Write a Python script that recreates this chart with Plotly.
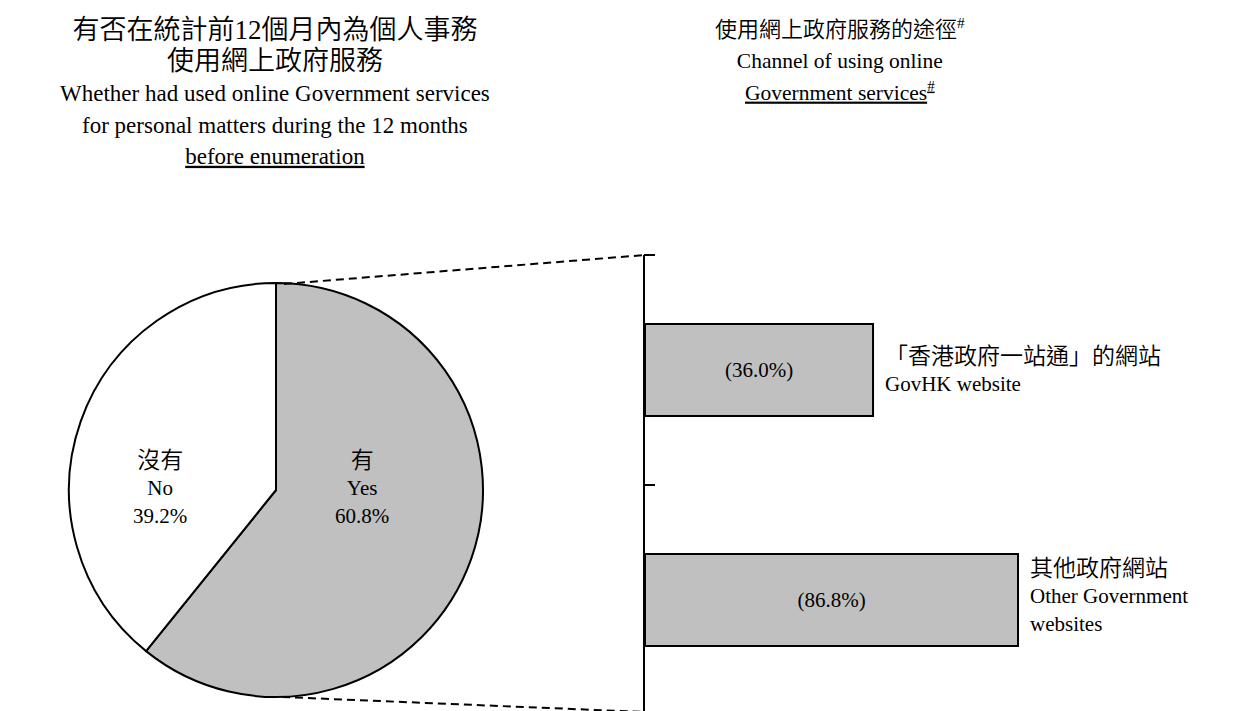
import plotly.graph_objects as go

# ---------------- data ----------------
pie_labels_zh = ["有", "沒有"]
pie_labels_en = ["Yes", "No"]
pie_values = [60.8, 39.2]
pie_colors = ["#C0C0C0", "#FFFFFF"]

bar_labels_zh = ["「香港政府一站通」的網站", "其他政府網站"]
bar_labels_en = ["GovHK website", "Other Government<br>websites"]
bar_values = [36.0, 86.8]

title_left_zh = ["有否在統計前12個月內為個人事務", "使用網上政府服務"]
title_left_en = ["Whether had used online Government services",
                 "for personal matters during the 12 months",
                 "<u>before enumeration</u>"]
title_right_zh = ["使用網上政府服務的途徑<sup>#</sup>"]
title_right_en = ["Channel of using online",
                  "<u>Government services<sup>#</sup></u>"]

# ---------------- layout constants (screen pixels) ----------------
SCR_W, SCR_H = 1238, 711
OFF = 8                       # default page margin around the plot div
FIG_W, FIG_H = SCR_W - OFF, SCR_H - OFF
FONT = ("Liberation Serif, Times New Roman, Noto Sans CJK TC DemiLight, "
        "Noto Sans CJK TC Light, Noto Sans CJK TC, serif")
PIE_CX, PIE_CY, PIE_R = 276, 490, 207
AXIS_X = 645
AXIS_TOP = 255
CAT_PX = 230
TICK_LEN = 10
BAR_X0 = -43.9          # value at the axis line (bars start here)
PX_PER_UNIT = 2.854

LTITLE_EN, LTITLE_ZH = 23, 27
RTITLE_EN, RTITLE_ZH = 21.5, 22
BODY_EN, BODY_ZH = 21, 23


def fx(x):
    return (x - OFF) / FIG_W


def fy(y):
    return 1 - (y - OFF) / FIG_H


def sz(s, size):
    return f"<span style='font-size:{size}px'>{s}</span>"


fig = go.Figure()

fig.add_trace(go.Pie(
    values=pie_values, labels=pie_labels_en,
    marker=dict(colors=pie_colors, line=dict(color="black", width=2)),
    sort=False, direction="clockwise", rotation=0,
    textinfo="none", hoverinfo="skip", showlegend=False,
    domain=dict(x=[fx(PIE_CX - PIE_R), fx(PIE_CX + PIE_R)],
                y=[fy(PIE_CY + PIE_R), fy(PIE_CY - PIE_R)]),
))

fig.add_trace(go.Bar(
    y=bar_labels_zh,
    x=[v - BAR_X0 for v in bar_values],
    base=BAR_X0,
    orientation="h",
    width=0.4,
    marker=dict(color="#C0C0C0", line=dict(color="black", width=2)),
    text=[f"({v:.1f}%)" for v in bar_values],
    textposition="inside", insidetextanchor="middle", textangle=0,
    constraintext="none",
    textfont=dict(family=FONT, size=BODY_EN, color="black"),
    hoverinfo="skip", showlegend=False,
    xaxis="x2", yaxis="y2",
))

dom_w = SCR_W - AXIS_X
x_range = [BAR_X0, BAR_X0 + dom_w / PX_PER_UNIT]
y_range = [-0.5 + (SCR_H - AXIS_TOP) / CAT_PX, -0.5]

annotations = []

# titles
left_title = "<br>".join([sz(s, LTITLE_ZH) for s in title_left_zh] +
                         [sz(s, LTITLE_EN) for s in title_left_en])
annotations.append(dict(text=left_title, x=fx(275), y=fy(92), xref="paper", yref="paper",
                        xanchor="center", yanchor="middle", showarrow=False,
                        font=dict(family=FONT, size=24, color="black"), align="center"))
right_title = "<br>".join([sz(s, RTITLE_ZH) for s in title_right_zh] +
                          [sz(s, RTITLE_EN) for s in title_right_en])
annotations.append(dict(text=right_title, x=fx(840), y=fy(60), xref="paper", yref="paper",
                        xanchor="center", yanchor="middle", showarrow=False,
                        font=dict(family=FONT, size=24, color="black"), align="center"))

# pie labels
pie_label_x = {"Yes": 362, "No": 160}
for zh, en, v in zip(pie_labels_zh, pie_labels_en, pie_values):
    annotations.append(dict(
        text=f"{sz(zh, BODY_ZH)}<br>{en}<br>{v:.1f}%",
        x=fx(pie_label_x[en]), y=fy(488), xref="paper", yref="paper",
        xanchor="center", yanchor="middle", showarrow=False, align="center",
        font=dict(family=FONT, size=BODY_EN, color="black")))

# bar category labels
bar_yshift = [0, 4]
for zh, en, v, ys in zip(bar_labels_zh, bar_labels_en, bar_values, bar_yshift):
    annotations.append(dict(
        text=f"{sz(zh, BODY_ZH)}<br>{en}",
        x=v, y=zh, xref="x2", yref="y2", xanchor="left", yanchor="middle",
        xshift=10, yshift=ys, showarrow=False, align="left",
        font=dict(family=FONT, size=BODY_EN, color="black")))

# dashed connector lines + tick at the top end of the category axis
DASH = "8px,5px"
shapes = [
    dict(type="line", xref="paper", yref="paper",
         x0=fx(PIE_CX + 8), y0=fy(PIE_CY - PIE_R + 1), x1=fx(AXIS_X), y1=fy(AXIS_TOP),
         line=dict(color="black", width=2, dash=DASH)),
    dict(type="line", xref="paper", yref="paper",
         x0=fx(PIE_CX + 6), y0=fy(PIE_CY + PIE_R), x1=fx(AXIS_X), y1=fy(SCR_H + 1),
         line=dict(color="black", width=2, dash=DASH)),
    dict(type="line", xref="paper", yref="paper",
         x0=fx(AXIS_X - 1), y0=fy(AXIS_TOP), x1=fx(AXIS_X + TICK_LEN), y1=fy(AXIS_TOP),
         line=dict(color="black", width=2)),
]

fig.update_layout(
    width=FIG_W, height=FIG_H,
    margin=dict(l=0, r=0, t=0, b=0),
    paper_bgcolor="white", plot_bgcolor="white",
    showlegend=False,
    annotations=annotations,
    shapes=shapes,
    xaxis2=dict(domain=[fx(AXIS_X), 1], range=x_range, visible=False,
                anchor="y2", fixedrange=True),
    yaxis2=dict(domain=[0, fy(AXIS_TOP)], range=y_range, anchor="x2",
                type="category", categoryorder="array", categoryarray=bar_labels_zh,
                showline=True, linecolor="black", linewidth=2,
                ticks="inside", tickson="boundaries", ticklen=TICK_LEN,
                tickwidth=2, tickcolor="black",
                showticklabels=False, showgrid=False, zeroline=False,
                fixedrange=True),
    xaxis=dict(visible=False), yaxis=dict(visible=False),
)

fig.write_html("out.html")
